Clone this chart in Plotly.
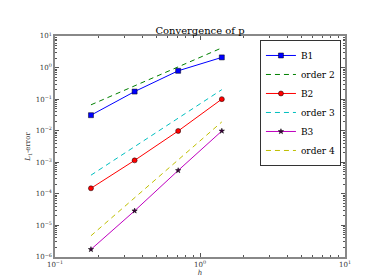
import plotly.graph_objects as go

h = [0.177, 0.354, 0.707, 1.414]
b1 = [0.031, 0.174, 0.79, 2.1]
order2 = [0.066, 0.264, 1.05, 4.2]
b2 = [1.5e-4, 1.15e-3, 9.8e-3, 0.1]
order3 = [3.9e-4, 3.12e-3, 0.025, 0.2]
b3 = [1.74e-6, 2.9e-5, 5.5e-4, 9.8e-3]
order4 = [4.7e-6, 7.5e-5, 1.2e-3, 0.019]

x_tickvals = [0.1, 1, 10]
x_ticktext = ["10<sup>−1</sup>", "10<sup>0</sup>", "10<sup>1</sup>"]
y_tickvals = [1e-6, 1e-5, 1e-4, 1e-3, 1e-2, 1e-1, 1, 10]
y_ticktext = ["10<sup>−6</sup>", "10<sup>−5</sup>", "10<sup>−4</sup>", "10<sup>−3</sup>",
              "10<sup>−2</sup>", "10<sup>−1</sup>", "10<sup>0</sup>", "10<sup>1</sup>"]

font = "DejaVu Serif"
fig = go.Figure()
fig.add_trace(go.Scatter(x=h, y=b1, name="B1", mode="lines+markers",
                         line=dict(color="#0000ff", width=1),
                         marker=dict(symbol="square", size=5, color="#0000ff",
                                     line=dict(color="#000000", width=0.5))))
fig.add_trace(go.Scatter(x=h, y=order2, name="order 2", mode="lines",
                         line=dict(color="#008000", width=1, dash="5px,4px")))
fig.add_trace(go.Scatter(x=h, y=b2, name="B2", mode="lines+markers",
                         line=dict(color="#ff0000", width=1),
                         marker=dict(symbol="circle", size=5, color="#ff0000",
                                     line=dict(color="#000000", width=0.5))))
fig.add_trace(go.Scatter(x=h, y=order3, name="order 3", mode="lines",
                         line=dict(color="#00bfbf", width=1, dash="5px,4px")))
fig.add_trace(go.Scatter(x=h, y=b3, name="B3", mode="lines+markers",
                         line=dict(color="#bf00bf", width=1),
                         marker=dict(symbol="star", size=4, color="#400040",
                                     line=dict(color="#000000", width=0.5))))
fig.add_trace(go.Scatter(x=h, y=order4, name="order 4", mode="lines",
                         line=dict(color="#bfbf00", width=1, dash="5px,4px")))

axis_common = dict(type="log", showgrid=False, ticks="inside", ticklen=4,
                   tickcolor="#555555", showline=True, linecolor="#888888",
                   linewidth=1.5, mirror="allticks", tickmode="array",
                   zeroline=False,
                   tickfont=dict(family=font, size=7, color="#333333"),
                   minor=dict(ticks="inside", ticklen=2, tickcolor="#555555",
                              dtick="D1", showgrid=False))

fig.update_layout(
    width=374, height=280,
    margin=dict(l=47, r=37, t=28, b=28),
    paper_bgcolor="white", plot_bgcolor="white",
    title=dict(text="Convergence of p", x=(47 + 145) / 374, xanchor="center",
               y=1 - 26/280, yanchor="bottom",
               font=dict(family=font, size=10, color="#000000")),
    xaxis=dict(range=[-1, 1], tickvals=x_tickvals, ticktext=x_ticktext,
               title=dict(text="<i>h</i>", standoff=2,
                          font=dict(family=font, size=7, color="#333333")),
               **axis_common),
    yaxis=dict(range=[-6, 1], tickvals=y_tickvals, ticktext=y_ticktext,
               title=dict(text="<i>L</i><sub>1</sub>-error", standoff=4,
                          font=dict(family=font, size=7, color="#333333")),
               **axis_common),
    legend=dict(x=0.986, y=0.982, xanchor="right", yanchor="top",
                bgcolor="white", bordercolor="#333333", borderwidth=1,
                font=dict(family=font, size=9, color="#000000"),
                tracegroupgap=0, itemwidth=30),
    showlegend=True,
)
fig.write_html("out.html")
